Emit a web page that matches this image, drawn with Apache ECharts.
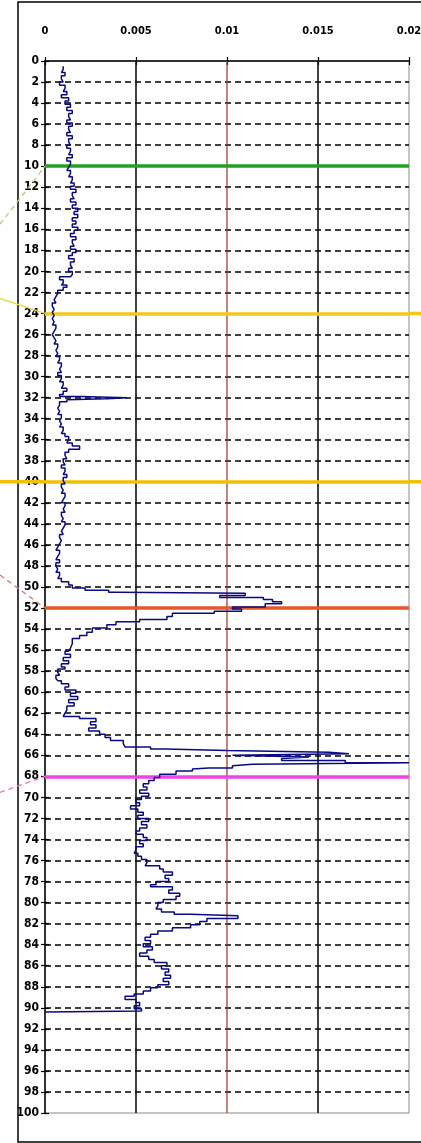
<!DOCTYPE html>
<html><head><meta charset="utf-8">
<script src="https://cdn.jsdelivr.net/npm/echarts@6/dist/echarts.min.js"></script>
<style>html,body{margin:0;padding:0;background:#fff}#c{width:421px;height:1143px}</style>
</head><body><div id="c"></div>
<script>
// ---- data (depth in y, value in x) ----
const depths = [
0.5,0.8,1.1,1.4,1.7,2.0,2.3,2.6,2.9,3.2,3.5,3.8,4.1,4.4,4.7,5.0,5.3,5.6,5.9,6.2,6.5,6.8,7.1,7.4,7.7,8.0,8.3,8.6,8.9,9.2,9.5,9.8,
10.1,10.4,10.7,11.0,11.3,11.6,11.9,12.2,12.5,12.8,13.1,13.4,13.7,14.0,14.3,14.6,14.9,15.2,15.5,15.8,16.1,16.4,16.7,17.0,17.3,17.6,17.9,
18.2,18.5,18.8,19.1,19.4,19.7,20.0,20.3,20.5,20.8,21.1,21.3,21.5,21.8,22.1,22.4,22.7,23.0,23.3,23.6,23.9,24.2,24.5,24.8,25.1,25.4,25.7,
26.0,26.3,26.6,26.9,27.2,27.5,27.8,28.1,28.4,28.7,29.0,29.3,29.6,29.9,30.2,30.5,30.8,31.1,31.4,31.7,31.9,32.0,32.1,32.2,32.4,32.7,
33.0,33.3,33.6,33.9,34.2,34.5,34.8,35.1,35.4,35.7,36.0,36.3,36.6,36.9,37.2,37.5,37.8,38.1,38.4,38.7,39.0,39.3,39.6,39.9,
40.2,40.5,40.8,41.1,41.4,41.7,42.0,42.3,42.6,42.9,43.2,43.5,43.8,44.1,44.4,44.7,45.0,45.3,45.6,45.9,46.2,46.5,46.8,47.1,47.4,47.7,
48.0,48.3,48.6,48.9,49.2,49.5,49.8,50.1,50.3,50.5,50.6,50.8,51.0,51.2,51.4,51.6,51.9,52.1,52.3,52.5,52.8,53.1,53.3,53.6,53.9,
54.3,54.6,54.9,55.4,55.8,56.1,56.4,56.7,57.0,57.3,57.6,57.8,58.1,58.4,58.7,58.9,59.2,59.5,59.8,60.1,60.4,60.7,61.0,61.3,61.7,
62.0,62.3,62.5,62.8,63.1,63.4,63.7,64.0,64.3,64.6,64.9,65.2,65.4,65.55,65.7,65.85,66.0,66.15,66.3,66.5,66.7,66.85,67.0,67.2,67.3,
67.5,67.8,68.1,68.4,68.7,69.0,69.3,69.6,69.9,70.2,70.5,70.8,71.1,71.4,71.7,72.0,72.3,72.6,72.9,73.2,73.5,73.8,74.1,74.4,74.7,
75.0,75.3,75.6,75.9,76.2,76.5,76.8,77.1,77.4,77.7,78.0,78.3,78.5,78.8,79.1,79.4,79.7,80.0,80.3,80.6,80.9,81.1,81.25,81.5,81.8,
82.1,82.4,82.7,83.0,83.3,83.6,83.9,84.2,84.5,84.8,85.1,85.4,85.7,86.0,86.3,86.6,86.9,87.2,87.5,87.8,88.1,88.4,88.7,88.9,
89.2,89.5,89.8,90.1,90.3,90.4
];
const values = [
0.0010,0.0009,0.0011,0.0009,0.0010,0.0008,0.0011,0.0010,0.0012,0.0009,0.0013,0.0011,0.0014,0.0012,0.0015,0.0013,0.0014,0.0012,0.0015,0.0013,0.0014,0.0012,0.0015,0.0013,0.0014,0.0012,0.0014,0.0013,0.0015,0.0012,0.0014,0.0013,
0.0012,0.0014,0.0013,0.0015,0.0014,0.0016,0.0014,0.0017,0.0015,0.0016,0.0014,0.0017,0.0015,0.0018,0.0016,0.0018,0.0015,0.0017,0.0015,0.0018,0.0016,0.0014,0.0017,0.0015,0.0016,0.0014,0.0017,
0.0015,0.0013,0.0016,0.0014,0.0015,0.0013,0.0015,0.0014,0.0008,0.0010,0.0009,0.0012,0.0010,0.0007,0.0006,0.0005,0.0006,0.0004,0.0005,0.0004,0.0005,0.0004,0.0005,0.0004,0.0006,0.0005,0.0004,
0.0005,0.0006,0.0005,0.0007,0.0006,0.0007,0.0006,0.0008,0.0007,0.0009,0.0008,0.0009,0.0007,0.0009,0.0008,0.0010,0.0009,0.0012,0.0010,0.0008,0.0020,0.0045,0.0034,0.0012,0.0008,0.0007,
0.0008,0.0007,0.0009,0.0008,0.0009,0.0008,0.0010,0.0009,0.0011,0.0013,0.0012,0.0015,0.0019,0.0013,0.0011,0.0012,0.0010,0.0011,0.0009,0.0011,0.0010,0.0012,0.0010,0.0011,
0.0009,0.0010,0.0009,0.0011,0.0010,0.0009,0.0011,0.0010,0.0011,0.0009,0.0010,0.0009,0.0011,0.0010,0.0009,0.0010,0.0008,0.0009,0.0008,0.0007,0.0006,0.0008,0.0007,0.0006,0.0008,0.0006,
0.0007,0.0006,0.0008,0.0007,0.0009,0.0013,0.0015,0.0022,0.0035,0.0040,0.0110,0.0096,0.0120,0.0125,0.0130,0.0121,0.0103,0.0108,0.0093,0.0070,0.0067,0.0052,0.0039,0.0034,0.0026,
0.0023,0.0019,0.0015,0.0014,0.0013,0.0011,0.0014,0.0010,0.0013,0.0009,0.0011,0.0007,0.0008,0.0006,0.0007,0.0009,0.0013,0.0011,0.0017,0.0014,0.0018,0.0013,0.0016,0.0012,0.0011,
0.0010,0.0019,0.0028,0.0025,0.0028,0.0024,0.0030,0.0033,0.0036,0.0043,0.0044,0.0058,0.0066,0.0100,0.0156,0.0167,0.0103,0.0145,0.0130,0.0165,0.0200,0.0114,0.0103,0.0090,0.0081,
0.0072,0.0063,0.0060,0.0057,0.0054,0.0056,0.0052,0.0057,0.0053,0.0050,0.0052,0.0047,0.0051,0.0054,0.0051,0.0057,0.0053,0.0056,0.0052,0.0050,0.0054,0.0056,0.0052,0.0054,0.0050,
0.0049,0.0051,0.0053,0.0056,0.0055,0.0063,0.0065,0.0070,0.0066,0.0068,0.0061,0.0058,0.0070,0.0068,0.0074,0.0072,0.0065,0.0062,0.0061,0.0064,0.0071,0.0080,0.0106,0.0089,0.0085,
0.0080,0.0070,0.0062,0.0058,0.0055,0.0058,0.0054,0.0059,0.0056,0.0052,0.0057,0.0060,0.0067,0.0064,0.0068,0.0066,0.0069,0.0065,0.0068,0.0062,0.0058,0.0054,0.0049,0.0044,
0.0050,0.0052,0.0049,0.0053,0.0052,0
];
const xTicks = [0, 0.005, 0.01, 0.015, 0.02];
const xTickLabels = ['0', '0.005', '0.01', '0.015', '0.02'];
const yTickLabels = ['0','2','4','6','8','10','12','14','16','18','20','22','24','26','28','30','32','34','36','38','40',
  '42','44','46','48','50','52','54','56','58','60','62','64','66','68','70','72','74','76','78','80','82','84','86','88','90',
  '92','94','96','98','100'];
const horizonDepths = [10, 24, 40, 52, 68];
const referenceValues = [0.005, 0.01, 0.015];

// ---- styles ----
const horizonColors = ['#22a022', '#f2c81a', '#f2c000', '#e4572a', '#f044e0'];
const refColors = ['#111', '#9a3322', '#111'];
const refWidths = [1.6, 1.2, 1.6];
const FONT = "'Liberation Sans Narrow','DejaVu Sans Condensed','Liberation Sans',Arial,sans-serif";

const chart = echarts.init(document.getElementById('c'), null, {renderer: 'canvas'});
const points = depths.map((d, i) => [values[i], d]);

const markData = horizonDepths.map((d, i) => ({yAxis: d, lineStyle: {color: horizonColors[i], width: 3.5, type: 'solid'}}));

chart.setOption({
  animation: false,
  backgroundColor: '#fff',
  grid: {left: 45, top: 61, right: 12, bottom: 30, containLabel: false, outerBoundsMode: 'none',
    show: true, borderColor: '#8a8a8a', borderWidth: 1, backgroundColor: 'transparent'},
  xAxis: [{
    type: 'value', position: 'top', min: 0, max: 0.02, interval: 0.005,
    axisLine: {show: true, lineStyle: {color: '#000', width: 1.5}},
    axisTick: {show: true, length: 4, lineStyle: {color: '#000', width: 1.2}},
    axisLabel: {margin: 24, fontFamily: FONT, fontSize: 11, fontWeight: 'bold', color: '#000',
      formatter: v => { const i = xTicks.findIndex(t => Math.abs(t - v) < 1e-9); return i >= 0 ? xTickLabels[i] : ''; }},
    splitLine: {show: false}
  }, {
    type: 'value', position: 'top', min: 0, max: 0.02, interval: 0.005,
    axisLine: {show: false}, axisLabel: {show: false}, splitLine: {show: false},
    axisTick: {show: true, inside: true, length: 4, lineStyle: {color: '#000', width: 1.2}}
  }],
  yAxis: [{
    type: 'value', inverse: true, min: 0, max: 100, interval: 2,
    axisLine: {show: true, lineStyle: {color: '#000', width: 1.5}},
    axisTick: {show: true, length: 4, lineStyle: {color: '#000', width: 1.2}},
    axisLabel: {margin: 6, fontFamily: FONT, fontSize: 12, fontWeight: 'bold', color: '#000',
      formatter: v => yTickLabels[Math.round(v / 2)] || ''},
    splitLine: {show: true, showMinLine: false, showMaxLine: false, lineStyle: {color: '#000', width: 1.5, type: [6, 4]}}
  }, {
    type: 'value', inverse: true, min: 0, max: 100, interval: 2, position: 'left',
    axisLine: {show: false}, axisLabel: {show: false}, splitLine: {show: false},
    axisTick: {show: true, inside: true, length: 4, lineStyle: {color: '#000', width: 1.2}}
  }],
  series: [{
    type: 'line', xAxisIndex: 0, yAxisIndex: 0, data: points, step: 'start',
    showSymbol: false, symbol: 'none', clip: true, z: 5,
    lineStyle: {color: '#0a0a80', width: 1.5},
    markLine: {silent: true, symbol: ['none', 'none'], label: {show: false}, data: markData, animation: false}
  }]
});

// reference verticals and decorative extensions outside the plot
const px = (v, d) => chart.convertToPixel({gridIndex: 0}, [v, d]);
const W = 421;
const g = [];
g.push({type: 'rect', shape: {x: 18, y: 2, width: 440, height: 1140}, style: {fill: null, stroke: '#000', lineWidth: 1.5}, z: 0, silent: true});
referenceValues.forEach((v, i) => {
  const a = px(v, 0), b = px(v, 100);
  g.push({type: 'line', shape: {x1: a[0], y1: a[1], x2: b[0], y2: b[1]}, style: {stroke: refColors[i], lineWidth: refWidths[i]}, z: 1, silent: true});
});
const p24 = px(0.02, 24), p40r = px(0.02, 40), p40l = px(0, 40);
g.push({type: 'line', shape: {x1: p24[0], y1: p24[1], x2: W, y2: p24[1]}, style: {stroke: horizonColors[1], lineWidth: 3.5}, z: 100});
g.push({type: 'line', shape: {x1: p40r[0], y1: p40r[1], x2: W, y2: p40r[1]}, style: {stroke: horizonColors[2], lineWidth: 3.5}, z: 100});
g.push({type: 'line', shape: {x1: 0, y1: p40l[1], x2: p40l[0], y2: p40l[1]}, style: {stroke: horizonColors[2], lineWidth: 3.5}, z: 100});
const conn = [
  {d: 10, dy: 58, color: '#b4cc78', dash: [5, 4]},
  {d: 24, dy: -15, color: '#ecd84a', dash: null},
  {d: 52, dy: -33, color: '#e87070', dash: [5, 4]},
  {d: 68, dy: 16, color: '#e870b8', dash: [5, 4]}
];
conn.forEach(c => {
  const p = px(0, c.d);
  g.push({type: 'line', shape: {x1: 0, y1: p[1] + c.dy, x2: p[0], y2: p[1]},
    style: {stroke: c.color, lineWidth: 1.3, lineDash: c.dash}, z: 100});
});
chart.setOption({graphic: g});
</script>
</body></html>
